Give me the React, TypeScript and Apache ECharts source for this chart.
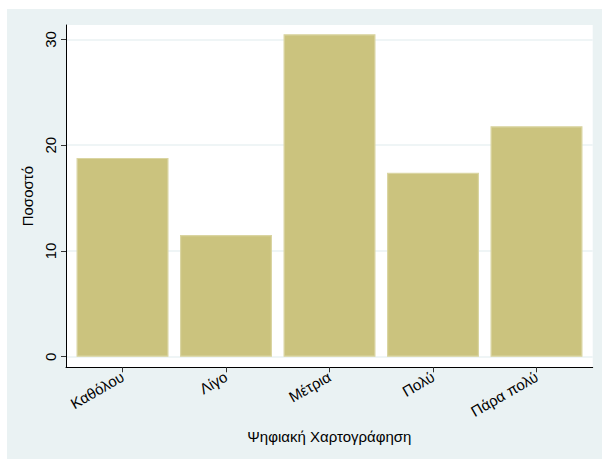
import React, { useEffect, useRef } from "react";
import * as echarts from "echarts";

const categories = ["Καθόλου", "Λίγο", "Μέτρια", "Πολύ", "Πάρα πολύ"];
const percentages = [18.8, 11.5, 30.5, 17.4, 21.8];
const yTicks = [0, 10, 20, 30];
const xTicks = [0, 1, 2, 3, 4];

export default function App() {
  const ref = useRef<HTMLDivElement>(null);
  useEffect(() => {
    document.body.style.margin = "0";
    const chart = echarts.init(ref.current!, null, { renderer: "svg" });
    const font = "Liberation Sans, Arial, Helvetica, sans-serif";
    chart.setOption({
      animation: false,
      backgroundColor: "#ffffff",
      graphic: [
        {
          type: "rect",
          z: -10,
          silent: true,
          shape: { x: 7, y: 9, width: 595, height: 450 },
          style: { fill: "#EAF2F3" },
        },
      ],
      grid: {
        left: 66,
        right: 9.3,
        top: 25,
        bottom: 92.7,
        show: true,
        backgroundColor: "#ffffff",
        borderWidth: 0,
      },
      xAxis: {
        type: "value",
        min: -0.546,
        max: 4.543,
        name: "Ψηφιακή Χαρτογράφηση",
        nameLocation: "middle",
        nameGap: 62,
        nameTextStyle: { fontFamily: font, fontSize: 15, color: "#000" },
        axisLine: { show: true, onZero: false, lineStyle: { color: "#000", width: 1 } },
        axisTick: { show: true, customValues: xTicks, length: 5, lineStyle: { color: "#333" } },
        axisLabel: {
          customValues: xTicks,
          rotate: 30,
          margin: 8,
          fontFamily: font,
          fontSize: 15,
          color: "#000",
          formatter: (v: number) => categories[Math.round(v)] ?? "",
        },
        splitLine: { show: false },
      },
      yAxis: {
        type: "value",
        min: -1,
        max: 31.37,
        name: "Ποσοστό",
        nameLocation: "middle",
        nameGap: 26,
        nameTextStyle: { fontFamily: font, fontSize: 15, color: "#000" },
        axisLine: { show: true, onZero: false, lineStyle: { color: "#000", width: 1 } },
        axisTick: { show: true, customValues: yTicks, length: 5, lineStyle: { color: "#333" } },
        axisLabel: {
          customValues: yTicks,
          rotate: 90,
          margin: 8,
          fontFamily: font,
          fontSize: 15,
          color: "#000",
        },
        splitLine: { show: true, lineStyle: { color: "#EAF2F3", width: 1.5 } },
      },
      series: [
        {
          type: "bar",
          barWidth: 92,
          data: percentages.map((v, i) => [i, v]),
          itemStyle: { color: "#CBC37E", borderColor: "#DAD5A2", borderWidth: 1.2 },
        },
      ],
    });
    return () => chart.dispose();
  }, []);
  return <div ref={ref} style={{ width: 602, height: 460 }} />;
}
